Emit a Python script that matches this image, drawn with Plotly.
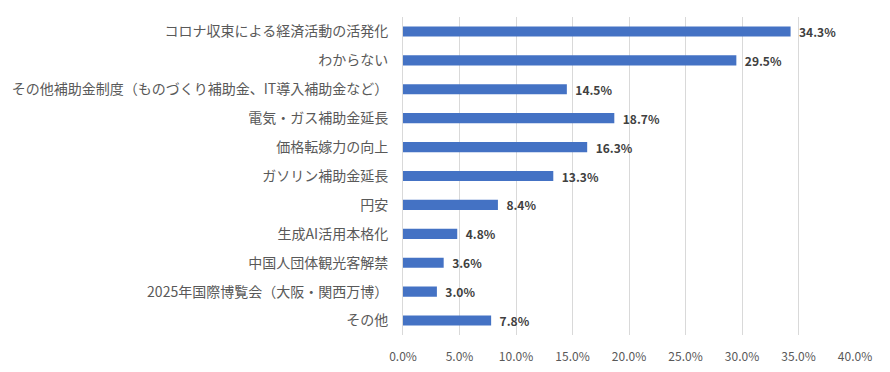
import plotly.graph_objects as go

categories = [
    "コロナ収束による経済活動の活発化",
    "わからない",
    "その他補助金制度（ものづくり補助金、IT導入補助金など）",
    "電気・ガス補助金延長",
    "価格転嫁力の向上",
    "ガソリン補助金延長",
    "円安",
    "生成AI活用本格化",
    "中国人団体観光客解禁",
    "2025年国際博覧会（大阪・関西万博）",
    "その他",
]
values = [34.3, 29.5, 14.5, 18.7, 16.3, 13.3, 8.4, 4.8, 3.6, 3.0, 7.8]
tick_vals = [0, 5, 10, 15, 20, 25, 30, 35, 40]
tick_text = [f"{v:.1f}%" for v in tick_vals]

FONT = "Noto Sans CJK JP"

fig = go.Figure(
    go.Bar(
        x=values,
        y=categories,
        orientation="h",
        marker=dict(color="#4472C4", line=dict(width=0)),
        width=0.35,
        text=[f"  {v:.1f}%" for v in values],
        textposition="outside",
        constraintext="none",
        cliponaxis=False,
        textfont=dict(family=FONT, size=12, color="#404040", weight="bold"),
    )
)

fig.update_layout(
    width=890,
    height=372,
    margin=dict(l=395, r=43, t=9, b=45, autoexpand=False),
    paper_bgcolor="white",
    plot_bgcolor="white",
    showlegend=False,
    font=dict(family=FONT, color="#595959"),
)

fig.update_xaxes(
    range=[0, 40],
    tickvals=tick_vals,
    ticktext=tick_text,
    showgrid=True,
    gridcolor="#D9D9D9",
    gridwidth=1,
    zeroline=False,
    showline=False,
    ticks="",
    automargin=False,
    ticklabelstandoff=13,
    tickfont=dict(family=FONT, size=12, color="#595959"),
)

fig.update_yaxes(
    autorange="reversed",
    showgrid=False,
    showline=True,
    linecolor="#D9D9D9",
    linewidth=1,
    ticks="",
    automargin=False,
    ticklabelstandoff=11,
    tickfont=dict(family=FONT, size=14, color="#595959"),
)

fig.write_html("out.html")
